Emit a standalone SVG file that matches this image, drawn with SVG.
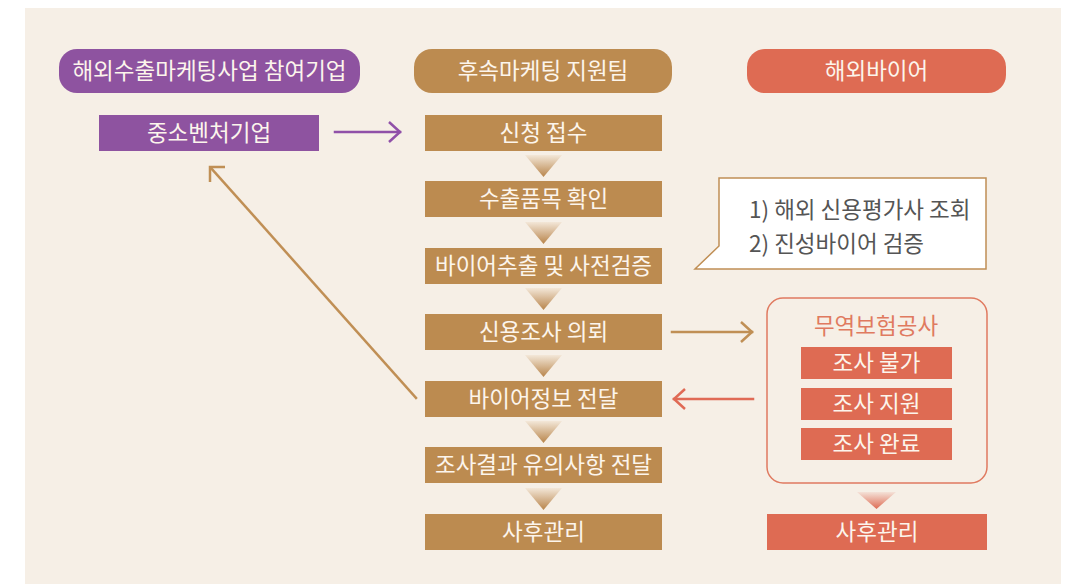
<svg xmlns="http://www.w3.org/2000/svg" width="1079" height="584" viewBox="0 0 1079 584">
<style>
  .t { font-family: "Noto Sans CJK KR", "Noto Sans", sans-serif; font-size: 22.5px; text-anchor: middle; }
  .w { fill: #FCF5EC; }
  .gold { fill: #BC8B50; }
  .purple { fill: #8E53A0; }
  .red { fill: #DE6B53; }
  .conn { fill: none; stroke-width: 2.5; stroke-linecap: square; }
</style>
<defs>
  <linearGradient id="gg" x1="0" y1="0" x2="0" y2="1">
    <stop offset="0" stop-color="#F3E7D8"/>
    <stop offset="1" stop-color="#B8844A"/>
  </linearGradient>
  <linearGradient id="rg" x1="0" y1="0" x2="0" y2="1">
    <stop offset="0" stop-color="#F4E2D8"/>
    <stop offset="1" stop-color="#DE6B53"/>
  </linearGradient>
</defs>
<rect x="0" y="0" width="1079" height="584" fill="#FFFFFF"/>
<rect x="25" y="8" width="1036" height="576" fill="#F6EFE6"/>

<g id="header-company">
  <rect x="59" y="49" width="301" height="44" rx="18" class="purple"/>
  <text x="209.5" y="79" class="t w">해외수출마케팅사업 참여기업</text>
</g>
<g id="header-team">
  <rect x="414" y="49" width="258" height="44" rx="18" class="gold"/>
  <text x="543" y="79" class="t w">후속마케팅 지원팀</text>
</g>
<g id="header-buyer">
  <rect x="747" y="49" width="259" height="44" rx="18" class="red"/>
  <text x="876.5" y="79" class="t w">해외바이어</text>
</g>

<g id="sme">
  <rect x="99" y="115" width="220" height="36" class="purple"/>
  <text x="209" y="141" class="t w">중소벤처기업</text>
</g>

<g id="step1">
  <rect x="425" y="115" width="237" height="36" class="gold"/>
  <text x="543.5" y="141" class="t w">신청 접수</text>
</g>
<g id="step2">
  <rect x="425" y="181" width="237" height="36" class="gold"/>
  <text x="543.5" y="207" class="t w">수출품목 확인</text>
</g>
<g id="step3">
  <rect x="425" y="248" width="237" height="36" class="gold"/>
  <text x="543.5" y="274" class="t w">바이어추출 및 사전검증</text>
</g>
<g id="step4">
  <rect x="425" y="314" width="237" height="36" class="gold"/>
  <text x="543.5" y="340" class="t w">신용조사 의뢰</text>
</g>
<g id="step5">
  <rect x="425" y="381" width="237" height="36" class="gold"/>
  <text x="543.5" y="407" class="t w">바이어정보 전달</text>
</g>
<g id="step6">
  <rect x="425" y="447" width="237" height="36" class="gold"/>
  <text x="543.5" y="473" class="t w">조사결과 유의사항 전달</text>
</g>
<g id="step7">
  <rect x="425" y="514" width="237" height="36" class="gold"/>
  <text x="543.5" y="540" class="t w">사후관리</text>
</g>

<g id="callout">
  <polygon points="719,178 986,178 986,269 695,269 719,246" fill="#FFFFFF" stroke="#C08F55" stroke-width="1.5"/>
  <text x="749" y="218" class="t" style="text-anchor:start" fill="#555555">1) 해외 신용평가사 조회</text>
  <text x="749" y="252" class="t" style="text-anchor:start" fill="#555555">2) 진성바이어 검증</text>
</g>

<g id="ksure">
  <rect x="767" y="298" width="220" height="185" rx="16" fill="none" stroke="#E07A60" stroke-width="1.5"/>
  <text x="876" y="334" class="t" fill="#E07A60">무역보험공사</text>
  <rect x="801" y="347" width="151" height="32" class="red"/>
  <text x="876.5" y="371" class="t w">조사 불가</text>
  <rect x="801" y="388" width="151" height="32" class="red"/>
  <text x="876.5" y="412" class="t w">조사 지원</text>
  <rect x="801" y="428" width="151" height="32" class="red"/>
  <text x="876.5" y="452" class="t w">조사 완료</text>
</g>
<g id="buyer-aftercare">
  <rect x="767" y="514" width="220" height="36" class="red"/>
  <text x="877" y="540" class="t w">사후관리</text>
</g>

<g id="connectors">
  <g id="flow-triangles">
    <polygon points="525,155 562,155 543.5,177" fill="url(#gg)"/>
    <polygon points="525,222 562,222 543.5,244" fill="url(#gg)"/>
    <polygon points="525,288 562,288 543.5,310" fill="url(#gg)"/>
    <polygon points="525,355 562,355 543.5,377" fill="url(#gg)"/>
    <polygon points="525,421 562,421 543.5,443" fill="url(#gg)"/>
    <polygon points="525,488 562,488 543.5,510" fill="url(#gg)"/>
    <polygon points="857,492 896,492 876.5,509" fill="url(#rg)"/>
  </g>
  <g class="conn" stroke="#9050A8">
    <line x1="335" y1="132" x2="400" y2="132"/>
    <polyline points="389,122 400,132 389,142" stroke-linecap="butt"/>
  </g>
  <g class="conn" stroke="#C08F55">
    <line x1="672" y1="332" x2="752" y2="332"/>
    <polyline points="741,322 752,332 741,342" stroke-linecap="butt"/>
  </g>
  <g class="conn" stroke="#E06A55">
    <line x1="753" y1="399" x2="674" y2="399"/>
    <polyline points="685,389 674,399 685,409" stroke-linecap="butt"/>
  </g>
  <g class="conn" stroke="#C08F55">
    <line x1="416" y1="398" x2="211" y2="168"/>
    <polyline points="225,167 210,167 210,182" stroke-linecap="butt"/>
  </g>
</g>
</svg>
